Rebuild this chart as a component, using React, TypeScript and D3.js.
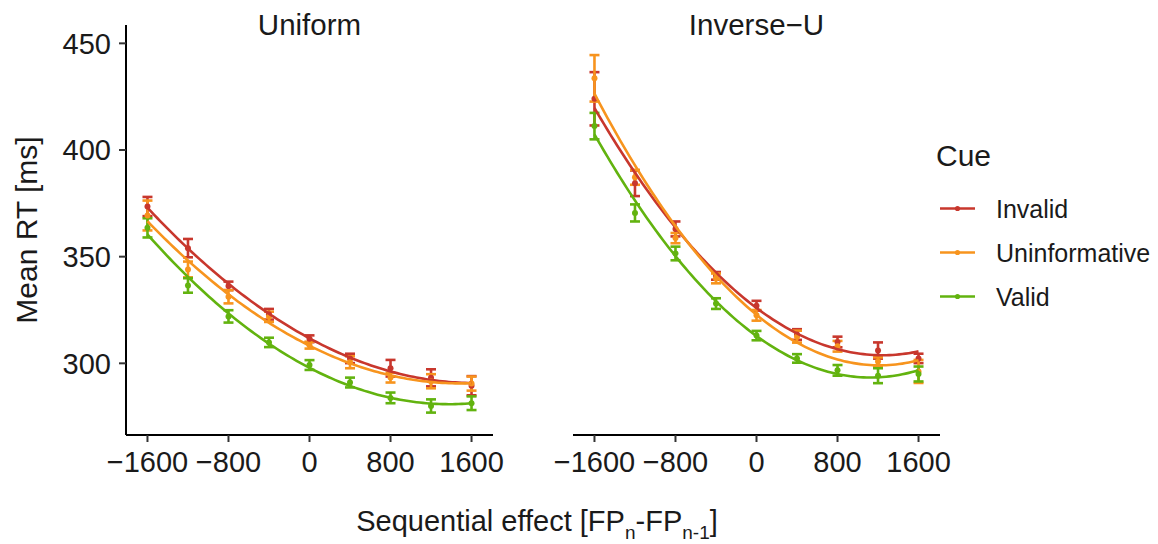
import React, { useEffect } from "react";
import * as d3 from "d3";

const xValues = [-1600, -1200, -800, -400, 0, 400, 800, 1200, 1600];
const xTicks = [-1600, -800, 0, 800, 1600];
const yTicks = [300, 350, 400, 450];
const cues = ["Invalid", "Uninformative", "Valid"];
const panels = ["Uniform", "Inverse\u2212U"];

// Uniform panel
const invalidUniformMean = [373.5, 354, 336.3, 323, 311.5, 302.3, 297.7, 293.2, 289.5];
const invalidUniformSE = [4.5, 4.3, 2, 2.5, 1.6, 2.2, 3.9, 4, 4.5];
const uninfUniformMean = [369.3, 344, 331.2, 321.8, 308.5, 300.5, 293.3, 291.6, 290.5];
const uninfUniformSE = [7, 3.7, 3.1, 2.4, 1.6, 2.8, 2.3, 3.3, 3.3];
const validUniformMean = [363.5, 336.5, 322, 309.8, 299.2, 291, 283.8, 280, 281.3];
const validUniformSE = [4.5, 3.4, 2.9, 2.2, 2.3, 2.3, 2.5, 3.1, 3.2];

// Inverse-U panel
const invalidInvMean = [424, 384.4, 363, 341, 327, 313.5, 310, 306, 302.3];
const invalidInvSE = [12.5, 6, 3.5, 1.8, 2.3, 2.5, 2.5, 3.8, 2.2];
const uninfInvMean = [433.6, 387.2, 358.7, 339.8, 322.5, 312.5, 308, 300.8, 296.2];
const uninfInvSE = [10.9, 3.5, 2.4, 2.3, 2.5, 2.8, 2.5, 2, 5.4];
const validInvMean = [411.2, 370.5, 351.5, 328, 313, 302.3, 296.7, 294.2, 295];
const validInvSE = [6.2, 4, 3.2, 2.5, 2.2, 2, 2.5, 3.5, 3.5];

const colors = ["#C8372D", "#F7941E", "#62B30F"];

const panelData = [
  [
    { mean: invalidUniformMean, se: invalidUniformSE },
    { mean: uninfUniformMean, se: uninfUniformSE },
    { mean: validUniformMean, se: validUniformSE },
  ],
  [
    { mean: invalidInvMean, se: invalidInvSE },
    { mean: uninfInvMean, se: uninfInvSE },
    { mean: validInvMean, se: validInvSE },
  ],
];

// quadratic least-squares fit (like geom_smooth(method = "lm", formula = y ~ poly(x, 2)))
function quadFit(xs: number[], ys: number[]) {
  const s = (f: (x: number, y: number) => number) => d3.sum(xs.map((x, i) => f(x / 1000, ys[i])));
  const n = xs.length;
  const S1 = s((x) => x), S2 = s((x) => x * x), S3 = s((x) => x * x * x), S4 = s((x) => x * x * x * x);
  const T0 = s((_, y) => y), T1 = s((x, y) => x * y), T2 = s((x, y) => x * x * y);
  const A = [
    [n, S1, S2, T0],
    [S1, S2, S3, T1],
    [S2, S3, S4, T2],
  ];
  for (let i = 0; i < 3; i++) {
    for (let k = i + 1; k < 3; k++) {
      const f = A[k][i] / A[i][i];
      for (let j = i; j < 4; j++) A[k][j] -= f * A[i][j];
    }
  }
  const c = [0, 0, 0];
  for (let i = 2; i >= 0; i--) {
    let v = A[i][3];
    for (let j = i + 1; j < 3; j++) v -= A[i][j] * c[j];
    c[i] = v / A[i][i];
  }
  return (x: number) => c[0] + c[1] * (x / 1000) + c[2] * (x / 1000) * (x / 1000);
}

const W = 1158;
const H = 544;
const panelRanges: [number, number][] = [
  [126, 493],
  [573, 940],
];
const yTop = 25;
const yBottom = 435;
const FONT = "'Liberation Sans', Arial, Helvetica, sans-serif";
const TXT = "#1a1a1a";

export default function App() {
  useEffect(() => {
    document.body.style.margin = "0";
  }, []);

  const y = d3.scaleLinear().domain([266.4, 458.6]).range([yBottom, yTop]);
  const line = d3.line<[number, number]>().curve(d3.curveLinear);

  return (
    <svg width={W} height={H} style={{ display: "block", background: "#fff" }} fontFamily={FONT}>
      {panels.map((pname, pi) => {
        const x = d3.scaleLinear().domain([-1812, 1812]).range(panelRanges[pi]);
        const samples = d3.range(0, 101).map((i) => -1600 + (3200 * i) / 100);
        return (
          <g key={pname}>
            {/* strip title */}
            <text
              x={(panelRanges[pi][0] + panelRanges[pi][1]) / 2}
              y={35}
              textAnchor="middle"
              fontSize={29.5}
              fill={TXT}
            >
              {pname}
            </text>
            {/* x axis */}
            <line x1={panelRanges[pi][0]} x2={panelRanges[pi][1]} y1={yBottom} y2={yBottom} stroke="#000" strokeWidth={2} />
            {xTicks.map((t) => (
              <g key={t}>
                <line x1={x(t)} x2={x(t)} y1={yBottom} y2={yBottom + 7} stroke="#333" strokeWidth={2} />
                <text x={x(t)} y={471.5} textAnchor="middle" fontSize={29} fill={TXT}>
                  {t < 0 ? "\u2212" + Math.abs(t) : String(t)}
                </text>
              </g>
            ))}
            {/* data: error bars */}
            {panelData[pi].map((ser, ci) => (
              <g key={"eb" + ci} stroke={colors[ci]} strokeWidth={2.6} fill="none">
                {xValues.map((xv, i) => {
                  const lo = y(ser.mean[i] - ser.se[i]);
                  const hi = y(ser.mean[i] + ser.se[i]);
                  const cx = x(xv);
                  return (
                    <g key={i}>
                      <line x1={cx} x2={cx} y1={lo} y2={hi} />
                      <line x1={cx - 5} x2={cx + 5} y1={lo} y2={lo} />
                      <line x1={cx - 5} x2={cx + 5} y1={hi} y2={hi} />
                    </g>
                  );
                })}
              </g>
            ))}
            {/* points */}
            {panelData[pi].map((ser, ci) => (
              <g key={"pt" + ci} fill={colors[ci]}>
                {xValues.map((xv, i) => (
                  <circle key={i} cx={x(xv)} cy={y(ser.mean[i])} r={3} />
                ))}
              </g>
            ))}
            {/* fitted curves */}
            {panelData[pi].map((ser, ci) => {
              const f = quadFit(xValues, ser.mean);
              const pts = samples.map((s) => [x(s), y(f(s))] as [number, number]);
              return <path key={"ln" + ci} d={line(pts) || ""} stroke={colors[ci]} strokeWidth={2.6} fill="none" />;
            })}
          </g>
        );
      })}

      {/* y axis (left panel only) */}
      <line x1={126} x2={126} y1={yTop} y2={yBottom} stroke="#000" strokeWidth={2} />
      {yTicks.map((t) => (
        <g key={t}>
          <line x1={119} x2={126} y1={y(t)} y2={y(t)} stroke="#333" strokeWidth={2} />
          <text x={111} y={y(t)} dy="0.36em" textAnchor="end" fontSize={29} fill={TXT}>
            {t}
          </text>
        </g>
      ))}

      {/* axis titles */}
      <text transform={`translate(37,${(yTop + yBottom) / 2}) rotate(-90)`} textAnchor="middle" fontSize={30} fill={TXT}>
        Mean RT [ms]
      </text>
      <text x={537} y={531} textAnchor="middle" fontSize={29} fill={TXT}>
        Sequential effect [FP
        <tspan fontSize={19} dy={8}>n</tspan>
        <tspan dy={-8}>-FP</tspan>
        <tspan fontSize={19} dy={8}>n-1</tspan>
        <tspan dy={-8}>]</tspan>
      </text>

      {/* legend */}
      <text x={936} y={166} fontSize={30} fill={TXT}>
        Cue
      </text>
      {cues.map((c, ci) => {
        const cy = 208.5 + ci * 44;
        return (
          <g key={c}>
            <line x1={940} x2={975} y1={cy} y2={cy} stroke={colors[ci]} strokeWidth={2.6} />
            <circle cx={957.5} cy={cy} r={2.6} fill={colors[ci]} />
            <text x={996} y={cy + 9} fontSize={25} fill={TXT}>
              {c}
            </text>
          </g>
        );
      })}
    </svg>
  );
}
